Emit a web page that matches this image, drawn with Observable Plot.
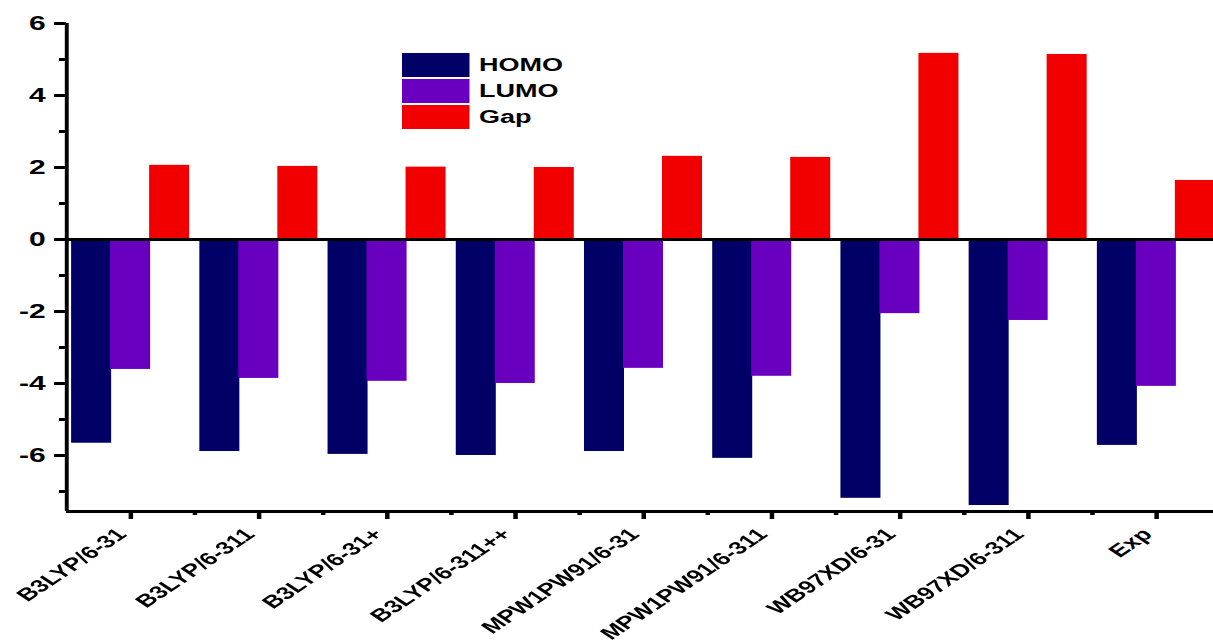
<!DOCTYPE html>
<html><head><meta charset="utf-8">
<script src="https://cdn.jsdelivr.net/npm/d3@7"></script>
<script src="https://cdn.jsdelivr.net/npm/@observablehq/plot@0.6"></script>
<style>
html,body{margin:0;padding:0;overflow:hidden;background:#fff;}
#outer{width:1213px;height:643px;overflow:hidden;position:relative;}
#wrap{position:absolute;left:0;top:0;width:813.33px;height:643px;transform:scaleX(1.5);transform-origin:0 0;}
.legend{position:absolute;left:268px;top:52px;font:bold 18px "Liberation Sans",Arial,sans-serif;color:#000;}
.legend .row{display:flex;align-items:center;height:26px;}
.legend .sw{display:inline-block;width:44.7px;height:24px;margin-right:6.7px;}
</style></head><body><div id="outer"><div id="wrap"></div></div>
<script>
const categories = ["B3LYP/6-31","B3LYP/6-311","B3LYP/6-31+","B3LYP/6-311++","MPW1PW91/6-31","MPW1PW91/6-311","WB97XD/6-31","WB97XD/6-311","Exp"];
const homo = [-5.66,-5.89,-5.97,-6.00,-5.89,-6.08,-7.19,-7.39,-5.72];
const lumo = [-3.61,-3.86,-3.94,-4.00,-3.58,-3.80,-2.06,-2.25,-4.08];
const gap  = [2.06,2.03,2.01,2.00,2.31,2.28,5.17,5.14,1.64];
const seriesNames = ["HOMO","LUMO","Gap"];
const seriesColors = ["#000066","#6a00bf","#f20000"];
const yTicks = [-6,-4,-2,0,2,4,6];
const yMinorTicks = [-7,-5,-3,-1,1,3,5];
const yMin = -7.556, yMax = 6;

const seriesValues = [homo, lumo, gap];
const rows = categories.flatMap((c,i)=>seriesNames.map((s,k)=>({category:c, series:s, value:seriesValues[k][i]})));
const offsets = [-26, 0, 26];
const halfStep = (813.33 - 44) / categories.length / 2;

const barMarks = seriesNames.map((s,k)=>Plot.barY(rows.filter(d=>d.series===s), {
  x:"category", y:"value", fill: seriesColors[k], insetLeft:29.4, insetRight:29.4, dx: offsets[k]
}));

const chart = Plot.plot({
  width:813.33, height:643,
  marginLeft:44, marginRight:0, marginTop:23, marginBottom:132,
  style:{fontFamily:'"Liberation Sans", Arial, sans-serif', color:"#000", background:"#fff", maxWidth:"none", overflow:"visible"},
  x:{domain:categories, paddingInner:0, paddingOuter:0, round:false},
  y:{domain:[yMin,yMax]},
  marks:[
    ...barMarks,
    Plot.ruleY([0], {stroke:"#000", strokeWidth:3}),
    Plot.ruleY([yMin], {stroke:"#000", strokeWidth:3}),
    Plot.ruleX([categories[0]], {y1:yMin, y2:yMax, dx:-halfStep, stroke:"#000", strokeWidth:2.6}),
    Plot.axisY(yTicks, {tickSize:8, tickPadding:6, tickFormat:d=>String(d), fontSize:20, fontWeight:"bold", strokeWidth:3, label:null}),
    Plot.axisY(yMinorTicks, {tickSize:4.7, text:null, strokeWidth:3, label:null}),
    Plot.axisX({tickSize:8, text:null, strokeWidth:3, label:null}),
    Plot.axisX({tickSize:0, tickPadding:12, dx:-6, dy:8, tickRotate:-45, fontSize:17.5, fontWeight:"bold", label:null}),
    Plot.axisX(categories.slice(0,-1), {tickSize:4, text:null, dx:halfStep, strokeWidth:3, label:null})
  ]
});
const wrap = document.getElementById("wrap");
wrap.appendChild(chart);
const legend = document.createElement("div");
legend.className = "legend";
seriesNames.forEach((s,k)=>{
  const row = document.createElement("div"); row.className="row";
  const sw = document.createElement("span"); sw.className="sw"; sw.style.background=seriesColors[k];
  const t = document.createElement("span"); t.textContent = s;
  row.appendChild(sw); row.appendChild(t); legend.appendChild(row);
});
wrap.appendChild(legend);
</script></body></html>
